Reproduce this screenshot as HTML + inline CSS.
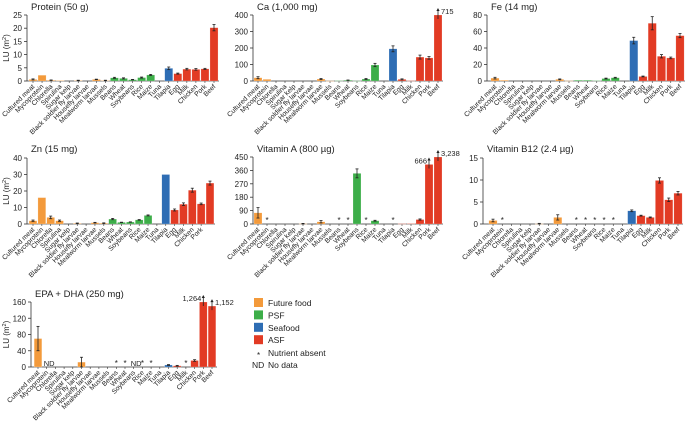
<!DOCTYPE html>
<html><head><meta charset="utf-8"><style>
html,body{margin:0;padding:0;background:#fff;}
svg{display:block;font-family:"Liberation Sans",Arial,sans-serif;}
</style></head><body>
<svg id="chart" width="685" height="422" viewBox="0 0 685 422" xmlns="http://www.w3.org/2000/svg"></svg>
<script>
const categories = ["Cultured meat","Mycoprotein","Chlorella","Spirulina","Sugar kelp","Black soldier fly larvae","Housefly larvae","Mealworm larvae","Mussels","Beans","Wheat","Soybeans","Rice","Maize","Tuna","Tilapia","Egg","Milk","Chicken","Pork","Beef"];
const groups = ["F","F","F","F","F","F","F","F","F","P","P","P","P","P","S","S","A","A","A","A","A"];
const proteinValues = [0.6,2.2,0.3,0.2,0,0.2,0,0.6,0.2,1.2,1.0,0.5,1.3,2.3,0,4.8,2.8,4.5,4.4,4.6,20.2];
const proteinErrors = [0.2,0,0.1,0,0,0.1,0,0.1,0.1,0.2,0.2,0.1,0.2,0.2,0,0.5,0.2,0.3,0.3,0.2,1.2];
const caValues = [20,10,0,0,0,0,0,12,1,2,5,1,12,97,0,195,10,2,145,140,400];
const caErrors = [6,0,0,0,0,0,0,3,0,0,1,0,3,10,0,18,3,0,12,8,0];
const feValues = [3.5,1,0,0,0,0,0,2,0.3,1,1,0.5,3,4,0,49,5.5,70,30,28,55];
const feErrors = [1,0,0,0,0,0,0,0.5,0,0,0,0,0.5,0.5,0,4,0.5,8,2,1,2.5];
const znValues = [2,16,4,2,0,0.4,0,0.8,0.5,3,1,1.2,2.5,5.2,0,30,8.5,12,20.5,12.2,24.8];
const znErrors = [0.4,0,0.8,0.4,0,0.2,0,0.2,0.2,0.4,0.1,0.1,0.2,0.3,0,0,0.6,0.8,1.2,0.5,1.2];
const vitAValues = [75,0,0,0,0,2,0,15,0,0,0,340,0,22,0,0,2,3,30,400,450];
const vitAErrors = [35,0,0,0,0,2,0,8,0,0,0,30,0,3,0,0,0,0,4,0,0];
const b12Values = [0.8,0,0,0,0,0.05,0,1.5,0,0,0,0,0,0,0,3.0,1.9,1.5,9.9,5.5,7.0];
const b12Errors = [0.3,0,0,0,0,0.1,0,0.6,0,0,0,0,0,0,0,0.2,0.1,0.1,0.6,0.4,0.4];
const epaValues = [70,0,0,0,0,12,0,0,0,0,0,0,0,0,0,5,3,0,16,160,150];
const epaErrors = [30,0,0,0,0,12,0,0,0,0,0,0,0,0,0,1,1,0,2,0,0];
const proteinTicks = [0,5,10,15,20,25];
const caTicks = [0,100,200,300,400];
const feTicks = [0,20,40,60,80];
const znTicks = [0,10,20,30,40];
const vitATicks = [0,90,180,270,360,450];
const b12Ticks = [0,5,10,15];
const epaTicks = [0,40,80,120,160];
const vitAAbsent = [1,9,10,12,15];
const b12Absent = [1,9,10,11,12,13];
const epaAbsent = [9,10,12,13,17];
const epaNoData = [1,11];
const caCapped = [[20,"715","r"]];
const vitACapped = [[19,"666","l"],[20,"3,238","r"]];
const epaCapped = [[19,"1,264","l"],[20,"1,152","r"]];

const COLORS = {F:"#F39A3B",P:"#3DAE49",S:"#2E6DB4",A:"#E23B24"};
const NS = "http://www.w3.org/2000/svg";
const svg = document.getElementById("chart");
function mk(tag, attrs, parent, text){
  const e = document.createElementNS(NS, tag);
  for (const k in attrs) e.setAttribute(k, attrs[k]);
  if (text !== undefined) e.textContent = text;
  (parent || svg).appendChild(e);
  return e;
}

function panel(p){
  const g = mk("g", {});
  
  
  const maxT = p.ticks[p.ticks.length-1];
  const y = v => p.y0 - (Math.min(v, maxT) / maxT) * (p.y0 - p.yTop);
  const x = i => p.x0 + i * p.step;
  const t = mk("text", {x:p.axisX+4, y:p.titleY, "font-size":9.5, fill:"#222"}, g, p.title);
  
  
  const ax = mk("line", {x1:p.axisX, y1:p.yTop, x2:p.axisX, y2:p.y0, stroke:"#333", "stroke-width":0.8}, g);
  
  
  const xa = mk("line", {x1:p.axisX, y1:p.y0, x2:p.x0 + 20*p.step + 5, y2:p.y0, stroke:"#333", "stroke-width":0.8}, g);
  
  
  p.ticks.forEach(tv => {
    mk("line", {x1:p.axisX-3, y1:y(tv), x2:p.axisX, y2:y(tv), stroke:"#333", "stroke-width":0.8}, g);
    const tl = mk("text", {x:p.axisX-5, y:y(tv)+3, "font-size":8, "text-anchor":"end", fill:"#222"}, g, tv);
    
    
  });
  if (p.ylab){
    const yl = mk("text", {x:0, y:0, "font-size":8, "text-anchor":"middle", fill:"#222", transform:`translate(9,${(p.y0+p.yTop)/2}) rotate(-90)`}, g);
    
    
    yl.textContent = "LU (m";
    mk("tspan", {"font-size":5.5, dy:-3}, yl, "2");
    mk("tspan", {dy:3}, yl, ")");
  }
  categories.forEach((c, i) => {
    if (p.skipLabel && p.skipLabel.includes(i)) return;
    const cx = x(i);
    mk("line", {x1:cx, y1:p.y0, x2:cx, y2:p.y0+2, stroke:"#333", "stroke-width":0.6}, g);
    const l = mk("text", {x:0, y:0, "font-size":6.8, "text-anchor":"end", fill:"#222", transform:`translate(${cx+2},${p.y0+6}) rotate(-45)`}, g, c);
    
    
  });
  p.values.forEach((v, i) => {
    if (v <= 0) return;
    const cx = x(i), top = y(v), bw = p.step - 1;
    const b = mk("rect", {x:cx-bw/2, y:top, width:bw, height:Math.max(p.y0-top,0.5), fill:COLORS[groups[i]], stroke:"#fff", "stroke-opacity":0.5, "stroke-width":0.4}, g);
    
    
    const e = p.errors[i];
    if (e > 0){
      const a = y(v+e), bb = y(Math.max(v-e,0));
      mk("line", {x1:cx, y1:a, x2:cx, y2:bb, stroke:"#222", "stroke-width":0.8}, g);
      mk("line", {x1:cx-1.5, y1:a, x2:cx+1.5, y2:a, stroke:"#222", "stroke-width":0.8}, g);
      mk("line", {x1:cx-1.5, y1:bb, x2:cx+1.5, y2:bb, stroke:"#222", "stroke-width":0.8}, g);
    }
  });
  (p.absent || []).forEach(i => {
    const s = mk("text", {x:x(i), y:p.y0-1, "font-size":8, "text-anchor":"middle", fill:"#222"}, g, "*");
    
    
  });
  (p.noData || []).forEach(i => {
    const s = mk("text", {x:x(i)-3, y:p.y0-1, "font-size":7.5, fill:"#222"}, g, "ND");
    
    
  });
  (p.capped || []).forEach(([i, lab, side]) => {
    const cx = x(i), top = y(p.values[i]);
    mk("line", {x1:cx, y1:top+4, x2:cx, y2:top-6, stroke:"#222", "stroke-width":0.8}, g);
    mk("path", {d:`M${cx-1.6},${top-4} L${cx},${top-7} L${cx+1.6},${top-4} Z`, fill:"#222"}, g);
    const tl = mk("text", {x: side==="r" ? cx+3 : cx-2, y: top-1, "font-size":7.5, "text-anchor": side==="r" ? "start" : "end", fill:"#222"}, g, lab);
    
    
  });
}

panel({name:"protein-panel", title:"Protein (50 g)", titleY:10, axisX:27, x0:33, step:9.05, y0:81, yTop:15, ticks:proteinTicks, values:proteinValues, errors:proteinErrors, ylab:true});
panel({name:"calcium-panel", title:"Ca (1,000 mg)", titleY:10, axisX:253, x0:258, step:9, y0:81, yTop:15, ticks:caTicks, values:caValues, errors:caErrors, capped:caCapped});
panel({name:"iron-panel", title:"Fe (14 mg)", titleY:10, axisX:487, x0:495, step:9.25, y0:81, yTop:15, ticks:feTicks, values:feValues, errors:feErrors});
panel({name:"zinc-panel", title:"Zn (15 mg)", titleY:152, axisX:27, x0:33, step:8.85, y0:224, yTop:158, ticks:znTicks, values:znValues, errors:znErrors, ylab:true, skipLabel:[20]});
panel({name:"vitamin-a-panel", title:"Vitamin A (800 \u00b5g)", titleY:152, axisX:253, x0:258, step:9, y0:224, yTop:157, ticks:vitATicks, values:vitAValues, errors:vitAErrors, absent:vitAAbsent, capped:vitACapped});
panel({name:"vitamin-b12-panel", title:"Vitamin B12 (2.4 \u00b5g)", titleY:152, axisX:483, x0:493, step:9.25, y0:224, yTop:158, ticks:b12Ticks, values:b12Values, errors:b12Errors, absent:b12Absent});
panel({name:"epa-dha-panel", title:"EPA + DHA (250 mg)", titleY:297, axisX:31, x0:38, step:8.7, y0:367, yTop:302, ticks:epaTicks, values:epaValues, errors:epaErrors, ylab:true, absent:epaAbsent, noData:epaNoData, capped:epaCapped});

// legend
const lg = mk("g", {});


[["F","Future food"],["P","PSF"],["S","Seafood"],["A","ASF"]].forEach(([k, lab], r) => {
  const yy = 298 + r*12.4;
  const sq = mk("rect", {x:254, y:yy, width:9, height:9, fill:COLORS[k]}, lg);
  
  
  const tx = mk("text", {x:268, y:yy+8, "font-size":8.5, fill:"#222"}, lg, lab);
  
  
});
const la = mk("text", {x:258.5, y:358, "font-size":8, "text-anchor":"middle", fill:"#222"}, lg, "*");


const lat = mk("text", {x:268, y:356, "font-size":8.5, fill:"#222"}, lg, "Nutrient absent");


const ln = mk("text", {x:252, y:368, "font-size":8.5, fill:"#222"}, lg, "ND");


const lnt = mk("text", {x:268, y:368, "font-size":8.5, fill:"#222"}, lg, "No data");


</script>
</body></html>
